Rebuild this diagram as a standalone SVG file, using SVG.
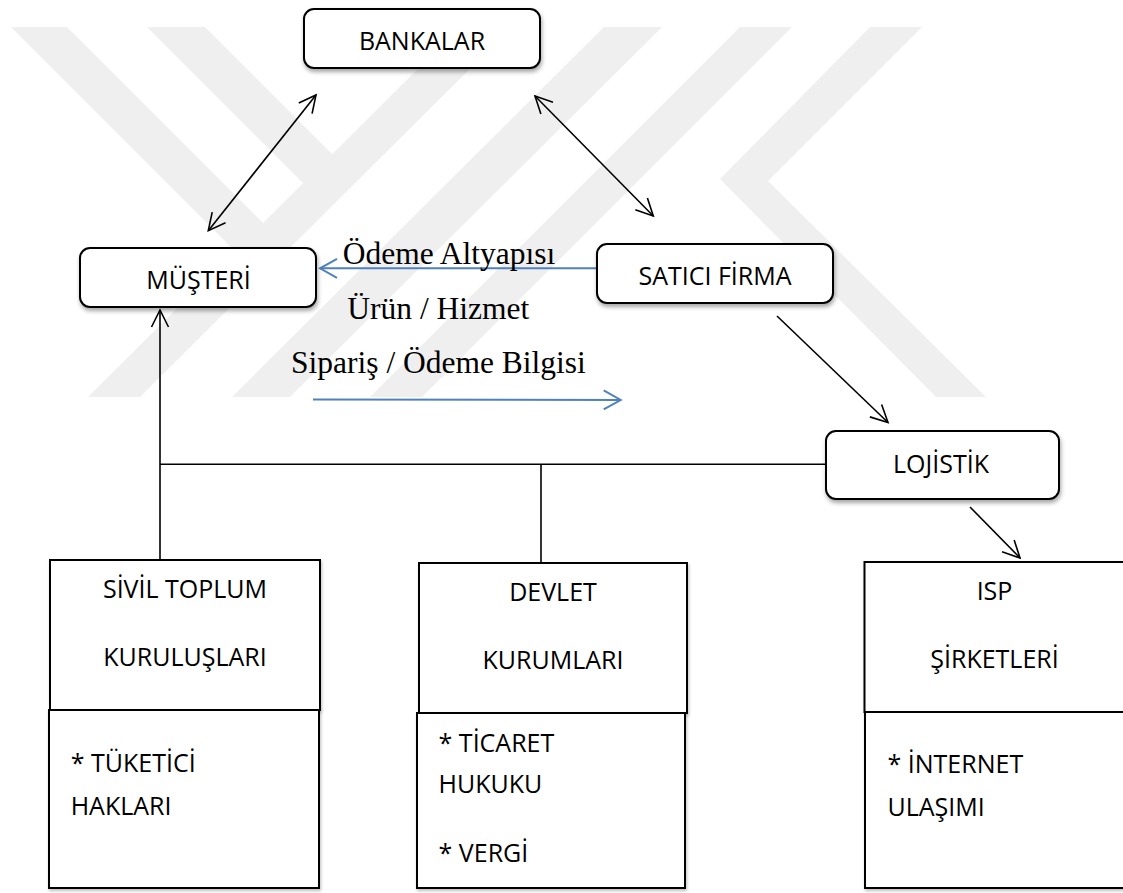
<svg xmlns="http://www.w3.org/2000/svg" width="1123" height="893" viewBox="0 0 1123 893">
<defs>
<style>
.wm{fill:#efefef}
.rbox{fill:#fff;stroke:#000;stroke-width:2;filter:url(#sh)}
.box{fill:#fff;stroke:#000;stroke-width:2;filter:url(#sh2)}
.lbl{font-family:'Open Sans','Liberation Sans',sans-serif;font-size:25px;fill:#000}
.c{text-anchor:middle}
.ser{font-family:'Liberation Serif','Times New Roman',serif;font-size:31.5px;fill:#000}
.ln{stroke:#000;stroke-width:1.6;fill:none}
.bl{stroke:#4f81bd;stroke-width:2;fill:none}
</style>
<filter id="sh" x="-10%" y="-20%" width="125%" height="150%"><feDropShadow dx="1" dy="3" stdDeviation="2" flood-color="#000" flood-opacity="0.35"/></filter>
<filter id="sh2" x="-10%" y="-10%" width="125%" height="125%"><feDropShadow dx="1" dy="2" stdDeviation="1.5" flood-color="#000" flood-opacity="0.25"/></filter>
<marker id="ah" viewBox="-20 -12 22 24" markerWidth="22" markerHeight="24" refX="0" refY="0" orient="auto-start-reverse" markerUnits="userSpaceOnUse"><path d="M-17,-8.5 L0,0 L-17,8.5" fill="none" stroke="#000" stroke-width="1.6"/></marker>
<marker id="bh" viewBox="-20 -12 22 24" markerWidth="22" markerHeight="24" refX="0" refY="0" orient="auto" markerUnits="userSpaceOnUse"><path d="M-17,-9.5 L0,0 L-17,9.5" fill="none" stroke="#4f81bd" stroke-width="2"/></marker>
</defs>
<rect width="1123" height="893" fill="#fff"/>
<g id="watermark">
<polygon class="wm" points="460,27 512,27 140,397 88,397"/>
<polygon class="wm" points="11,27 67,27 263.5,223.5 235.5,251.5"/>
<polygon class="wm" points="147,27 205,27 332.5,154.5 303.5,183.5"/>
<polygon class="wm" points="604,27 662,27 290,397 232,397"/>
<polygon class="wm" points="740,27 792,27 422,397 370,397"/>
<polygon class="wm" points="870,27 922,27 768,181 986,397 936,397 720,179"/>
</g>
<g id="connectors">
<line class="ln" x1="208.3" y1="230.7" x2="316" y2="95" marker-start="url(#ah)" marker-end="url(#ah)"/>
<line class="ln" x1="535" y1="96" x2="653.3" y2="216" marker-start="url(#ah)" marker-end="url(#ah)"/>
<line class="bl" x1="597" y1="268.3" x2="320" y2="268.3" marker-end="url(#bh)"/>
<line class="bl" x1="313" y1="399.5" x2="620.7" y2="400" marker-end="url(#bh)"/>
<line class="ln" x1="777" y1="316" x2="888" y2="422.5" marker-end="url(#ah)"/>
<line class="ln" x1="970" y1="507" x2="1020" y2="558" marker-end="url(#ah)"/>
<line class="ln" x1="160" y1="559" x2="160" y2="310" marker-end="url(#ah)"/>
<line class="ln" x1="160" y1="464.3" x2="826" y2="464.3"/>
<line class="ln" x1="541" y1="464.3" x2="541" y2="562"/>
</g>
<g id="flow-labels">
<text class="ser" x="342.7" y="264">Ödeme Altyapısı</text>
<text class="ser" x="347.3" y="319">Ürün / Hizmet</text>
<text class="ser" x="291" y="373">Sipariş / Ödeme Bilgisi</text>
</g>
<g id="bankalar">
<rect class="rbox" x="304" y="9" width="236" height="59" rx="10"/>
<text class="lbl c" x="422" y="49.5">BANKALAR</text>
</g>
<g id="musteri">
<rect class="rbox" x="80" y="248" width="236" height="59" rx="10"/>
<text class="lbl c" x="198.5" y="289">MÜŞTERİ</text>
</g>
<g id="satici-firma">
<rect class="rbox" x="597" y="244" width="236" height="59" rx="10"/>
<text class="lbl c" x="715" y="285">SATICI FİRMA</text>
</g>
<g id="lojistik">
<rect class="rbox" x="826" y="431" width="233" height="68" rx="10"/>
<text class="lbl c" x="941" y="473">LOJİSTİK</text>
</g>
<g id="sivil-toplum">
<rect class="box" x="50" y="560" width="270" height="150"/>
<rect class="box" x="49" y="710" width="270" height="178"/>
<text class="lbl c" x="185" y="598">SİVİL TOPLUM</text>
<text class="lbl c" x="185" y="666">KURULUŞLARI</text>
<text class="lbl" x="70.7" y="772">* TÜKETİCİ</text>
<text class="lbl" x="70.7" y="815">HAKLARI</text>
</g>
<g id="devlet">
<rect class="box" x="419" y="563" width="268" height="150"/>
<rect class="box" x="417" y="713" width="268" height="175"/>
<text class="lbl c" x="553" y="601">DEVLET</text>
<text class="lbl c" x="553" y="669">KURUMLARI</text>
<text class="lbl" x="438.6" y="751.7">* TİCARET</text>
<text class="lbl" x="438.6" y="793.3">HUKUKU</text>
<text class="lbl" x="438.6" y="861.7">* VERGİ</text>
</g>
<g id="isp">
<rect class="box" x="864.5" y="562" width="264" height="150"/>
<rect class="box" x="865" y="712" width="264" height="176"/>
<text class="lbl c" x="994.5" y="600">ISP</text>
<text class="lbl c" x="994.5" y="667.5">ŞİRKETLERİ</text>
<text class="lbl" x="887.5" y="773">* İNTERNET</text>
<text class="lbl" x="887.5" y="816">ULAŞIMI</text>
</g>
</svg>
